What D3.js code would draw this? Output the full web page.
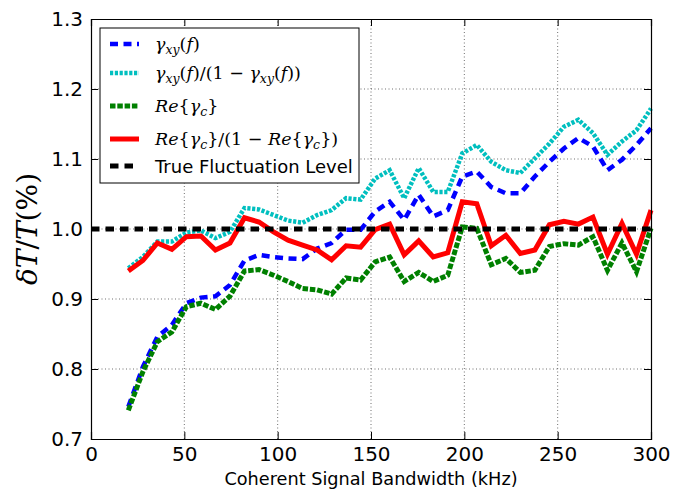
<!DOCTYPE html>
<html><head><meta charset="utf-8">
<script src="https://cdn.jsdelivr.net/npm/d3@7/dist/d3.min.js"></script>
<style>body{margin:0;background:#fff}svg{display:block}</style>
</head><body>
<script>
const bandwidth = [20, 27.78, 35.56, 43.33, 51.11, 58.89, 66.67, 74.44, 82.22, 90, 97.78, 105.56, 113.33, 121.11, 128.89, 136.67, 144.44, 152.22, 160, 167.78, 175.56, 183.33, 191.11, 198.89, 206.67, 214.44, 222.22, 230, 237.78, 245.56, 253.33, 261.11, 268.89, 276.67, 284.44, 292.22, 300];
const gammaXY = [0.746,0.803,0.846,0.863,0.894,0.902,0.904,0.920,0.955,0.963,0.960,0.958,0.957,0.972,0.980,0.999,0.999,1.025,1.039,1.013,1.049,1.018,1.027,1.075,1.082,1.060,1.051,1.051,1.075,1.096,1.115,1.130,1.118,1.084,1.099,1.120,1.144];
const gammaXYRatio = [0.944,0.960,0.982,0.982,0.995,0.998,0.987,0.996,1.030,1.028,1.020,1.012,1.009,1.020,1.027,1.044,1.042,1.072,1.084,1.044,1.087,1.053,1.053,1.108,1.120,1.096,1.084,1.080,1.101,1.122,1.146,1.156,1.137,1.106,1.125,1.141,1.172];
const reGammaC = [0.741,0.796,0.839,0.853,0.889,0.894,0.885,0.904,0.940,0.942,0.934,0.925,0.915,0.913,0.907,0.930,0.927,0.953,0.960,0.925,0.938,0.925,0.934,1.003,1.001,0.949,0.958,0.938,0.941,0.975,0.979,0.977,0.989,0.941,0.980,0.939,1.001];
const reGammaCRatio = [0.940,0.955,0.980,0.971,0.989,0.990,0.970,0.980,1.016,1.010,0.996,0.984,0.977,0.970,0.956,0.976,0.974,0.999,1.007,0.963,0.983,0.960,0.966,1.039,1.036,0.976,0.991,0.965,0.970,1.006,1.011,1.007,1.017,0.964,1.008,0.964,1.027];
const trueLevel = 1.0;
const xTicks = [0, 50, 100, 150, 200, 250, 300];
const yTicks = [0.7, 0.8, 0.9, 1.0, 1.1, 1.2, 1.3];

const W = 685, H = 489;
const m = {left: 91, right: 34, top: 19, bottom: 50};
const svg = d3.select("body").append("svg").attr("width", W).attr("height", H);
const x = d3.scaleLinear().domain([0, 300]).range([m.left, W - m.right]);
const y = d3.scaleLinear().domain([0.7, 1.3]).range([H - m.bottom, m.top]);
const sans = "DejaVu Sans, sans-serif";
const serif = "DejaVu Serif, serif";

// grid
const grid = svg.append("g").attr("stroke", "#000").attr("stroke-width", 0.7).attr("stroke-dasharray", "1,2.5").attr("opacity", 0.8);
xTicks.slice(1, -1).forEach(t => grid.append("line").attr("x1", x(t)).attr("x2", x(t)).attr("y1", y(0.7)).attr("y2", y(1.3)));
yTicks.slice(1, -1).forEach(t => grid.append("line").attr("x1", x(0)).attr("x2", x(300)).attr("y1", y(t)).attr("y2", y(t)));

const series = [
  {vals: gammaXY, color: "#0000ff", w: 4.5, dash: "8,5.5"},
  {vals: gammaXYRatio, color: "#00bfbf", w: 4.5, dash: "3.2,1.6"},
  {vals: reGammaC, color: "#008000", w: 5, dash: "5.5,1.8"},
  {vals: reGammaCRatio, color: "#ff0000", w: 5, dash: null}
];
const line = d3.line().x((d, i) => x(bandwidth[i])).y(d => y(d));
const plot = svg.append("g");
series.forEach(s => {
  const p = plot.append("path").datum(s.vals).attr("d", line).attr("fill", "none")
    .attr("stroke", s.color).attr("stroke-width", s.w).attr("stroke-linejoin", "miter");
  if (s.dash) p.attr("stroke-dasharray", s.dash);
});
plot.append("line").attr("x1", x(0)).attr("x2", x(300)).attr("y1", y(trueLevel)).attr("y2", y(trueLevel))
  .attr("stroke", "#000").attr("stroke-width", 5).attr("stroke-dasharray", "8.5,6");

// axes (inward ticks on all sides)
const tl = 7;
const ax = svg.append("g");
ax.append("g").attr("transform", `translate(0,${y(0.7)})`).call(d3.axisBottom(x).tickValues(xTicks).tickSize(-tl).tickPadding(8).tickFormat(d3.format("d")));
ax.append("g").attr("transform", `translate(0,${y(1.3)})`).call(d3.axisTop(x).tickValues(xTicks).tickSize(-tl).tickFormat(""));
ax.append("g").attr("transform", `translate(${x(0)},0)`).call(d3.axisLeft(y).tickValues(yTicks).tickSize(-tl).tickPadding(8).tickFormat(d3.format(".1f")));
ax.append("g").attr("transform", `translate(${x(300)},0)`).call(d3.axisRight(y).tickValues(yTicks).tickSize(-tl).tickFormat(""));
ax.selectAll(".domain").attr("stroke", "#000").attr("stroke-width", 1.2);
ax.selectAll(".tick line").attr("stroke", "#000").attr("stroke-width", 1);
ax.selectAll(".tick text").attr("font-family", sans).attr("font-size", 20).attr("fill", "#000");

// axis labels
svg.append("text").attr("x", x(150)).attr("y", 485).attr("text-anchor", "middle")
  .attr("font-family", sans).attr("font-size", 17.7).text("Coherent Signal Bandwidth (kHz)");
const yl = svg.append("text").attr("transform", `translate(37,${y(1.0)}) rotate(-90)`).attr("text-anchor", "middle")
  .attr("font-family", serif).attr("font-size", 28);
[["δT", true], ["/", false], ["T", true], ["(%)", false]].forEach(([t, it]) =>
  yl.append("tspan").attr("font-style", it ? "italic" : "normal").text(t));

// legend
const lg = svg.append("g");
lg.append("rect").attr("x", 100).attr("y", 28).attr("width", 259).attr("height", 155)
  .attr("fill", "#fff").attr("stroke", "#000").attr("stroke-width", 1);
const legendItems = [
  {s: series[0], ys: 44, parts: [["γ","i"],["xy","s"],["(","n"],["f","i"],[")","n"]]},
  {s: series[1], ys: 73, parts: [["γ","i"],["xy","s"],["(","n"],["f","i"],[")/(1 − ","n"],["γ","i"],["xy","s"],["(","n"],["f","i"],["))","n"]]},
  {s: series[2], ys: 106, parts: [["Re","i"],["{","n"],["γ","i"],["c","s"],["}","n"]]},
  {s: series[3], ys: 139, parts: [["Re","i"],["{","n"],["γ","i"],["c","s"],["}/(1 − ","n"],["Re","i"],["{","n"],["γ","i"],["c","s"],["})","n"]]},
  {s: {color: "#000", w: 5, dash: "8.5,6"}, ys: 166, parts: null}
];
legendItems.forEach(it => {
  const l = lg.append("line").attr("x1", 110).attr("x2", 139).attr("y1", it.ys).attr("y2", it.ys)
    .attr("stroke", it.s.color).attr("stroke-width", it.s.w);
  if (it.s.dash) l.attr("stroke-dasharray", it.s.dash);
  const t = lg.append("text").attr("x", 155).attr("y", it.ys + 6);
  if (!it.parts) {
    t.attr("y", it.ys + 7).attr("font-family", sans).attr("font-size", 18).text("True Fluctuation Level");
  } else {
    t.attr("font-family", serif).attr("font-size", 17.5);
    let sub = false;
    it.parts.forEach(([txt, k]) => {
      const ts = t.append("tspan").text(txt);
      if (k === "i") ts.attr("font-style", "italic");
      if (k === "s") { ts.attr("font-style", "italic").attr("font-size", 12.5).attr("dy", 4); sub = true; }
      else if (sub) { ts.attr("dy", -4); sub = false; }
    });
  }
});
</script>
</body></html>
